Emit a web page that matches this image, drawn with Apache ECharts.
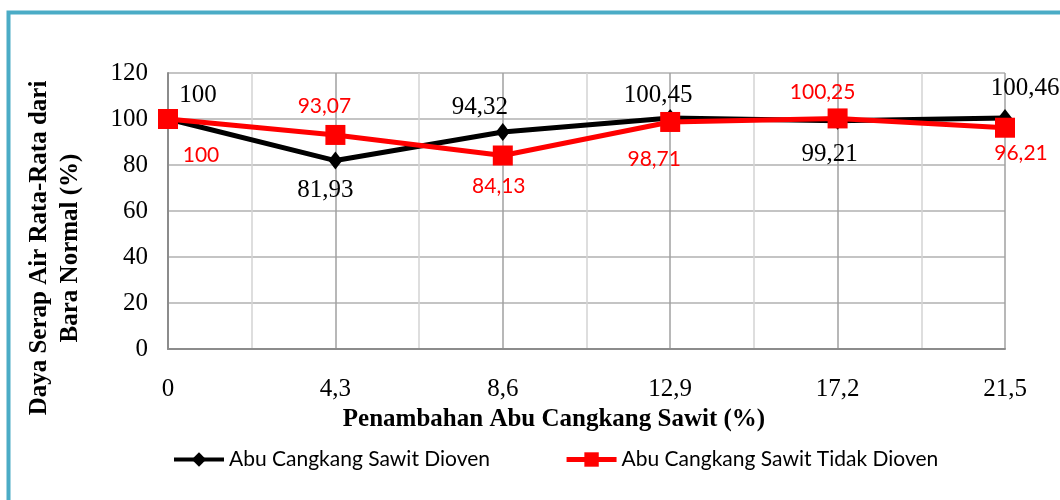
<!DOCTYPE html>
<html>
<head>
<meta charset="utf-8">
<script src="https://cdn.jsdelivr.net/npm/echarts@6/dist/echarts.min.js"></script>
<style>html,body{margin:0;padding:0;background:#fff;}#c{width:1060px;height:500px;}</style>
</head>
<body>
<div id="c"></div>
<script>
// ---- data ----
var xValues = [0, 4.3, 8.6, 12.9, 17.2, 21.5];
var dioven = [100, 81.93, 94.32, 100.45, 99.21, 100.46];
var tidakDioven = [100, 93.07, 84.13, 98.71, 100.25, 96.21];
var seriesNames = ['Abu Cangkang Sawit Dioven', 'Abu Cangkang Sawit Tidak Dioven'];
var xTitle = 'Penambahan Abu Cangkang Sawit (%)';
var yTitle = 'Daya Serap Air Rata-Rata dari\nBara Normal (%)';

// ---- label placement (style) ----
var offDioven = [[30, -24], [-10, 30], [-23, -25], [-12, -23], [-8, 34], [20, -30]];
var offTidak = [[33, 36], [-11, -29], [-4, 31], [-16, 37], [-15, -26], [16, 26]];

function fmt(v) { return String(v).replace('.', ','); }
function build(vals, offs, labelStyle) {
  return vals.map(function (v, i) {
    return {
      value: [xValues[i], v],
      label: Object.assign({ show: true, position: 'inside', offset: offs[i] }, labelStyle)
    };
  });
}

var chart = echarts.init(document.getElementById('c'));
chart.setOption({
  animation: false,
  backgroundColor: '#fff',
  grid: { left: 168, right: 55, top: 73, bottom: 151 },
  xAxis: {
    type: 'value', min: 0, max: 21.5, interval: 4.3,
    axisLine: { show: true, lineStyle: { color: '#8c8c8c', width: 2 } },
    axisTick: { show: false },
    minorTick: { show: false, splitNumber: 2 },
    minorSplitLine: { show: true, lineStyle: { color: '#d4d4d4', width: 1.5 } },
    splitLine: { show: true, lineStyle: { color: '#a0a0a0', width: 1.5 } },
    axisLabel: {
      margin: 28, color: '#000', fontFamily: 'Liberation Serif', fontSize: 25,
      formatter: function (v) { return v === 0 ? '0' : fmt(Math.round(v * 10) / 10); }
    }
  },
  yAxis: {
    type: 'value', min: 0, max: 120, interval: 20,
    axisLine: { show: true, lineStyle: { color: '#8c8c8c', width: 2 } },
    axisTick: { show: false },
    splitLine: { show: true, lineStyle: { color: '#b0b0b0', width: 1.5 } },
    axisLabel: { margin: 20, color: '#000', fontFamily: 'Liberation Serif', fontSize: 25 }
  },
  legend: {
    left: 167, top: 444, itemWidth: 50, itemHeight: 18, itemGap: 74,
    textStyle: { color: '#000', fontFamily: 'Lato', fontSize: 21 },
    data: [
      { name: seriesNames[0], lineStyle: { width: 4 } },
      { name: seriesNames[1], lineStyle: { width: 5 } }
    ]
  },
  graphic: [
    { type: 'rect', silent: true, shape: { x: 8.5, y: 12.5, width: 1100, height: 600 },
      style: { fill: 'none', stroke: '#4bacc6', lineWidth: 4 } },
    { type: 'text', x: 554, y: 420, silent: true,
      style: { text: xTitle, align: 'center', verticalAlign: 'middle', fill: '#000',
        font: 'bold 25px "Liberation Serif"' } },
    { type: 'text', x: 55, y: 248, rotation: Math.PI / 2, silent: true,
      style: { text: yTitle, align: 'center', verticalAlign: 'middle', fill: '#000',
        lineHeight: 31, font: 'bold 25px "Liberation Serif"' } }
  ],
  series: [
    {
      name: seriesNames[0], type: 'line', z: 2,
      symbol: 'diamond', symbolSize: [14, 18],
      itemStyle: { color: '#000' },
      lineStyle: { color: '#000', width: 5 },
      data: build(dioven, offDioven, {
        color: '#000', fontFamily: 'Liberation Serif', fontSize: 25,
        formatter: function (p) { return fmt(p.value[1]); }
      })
    },
    {
      name: seriesNames[1], type: 'line', z: 3,
      symbol: 'rect', symbolSize: 20,
      itemStyle: { color: '#ff0000' },
      lineStyle: { color: '#ff0000', width: 5 },
      data: build(tidakDioven, offTidak, {
        color: '#ff0000', fontFamily: 'Lato', fontSize: 21,
        formatter: function (p) { return fmt(p.value[1]); }
      })
    }
  ]
});
</script>
</body>
</html>
